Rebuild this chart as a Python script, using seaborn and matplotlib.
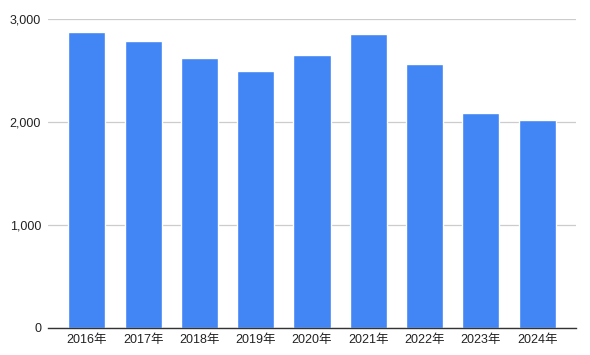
import matplotlib
matplotlib.use("Agg")
import matplotlib.pyplot as plt
import seaborn as sns
import pandas as pd
from matplotlib.ticker import FuncFormatter

years = ["2016年", "2017年", "2018年", "2019年", "2020年", "2021年", "2022年", "2023年", "2024年"]
values = [2871, 2784, 2620, 2497, 2651, 2855, 2564, 2087, 2022]
yticks = [0, 1000, 2000, 3000]

sns.set_theme(style="white")
plt.rcParams['font.family'] = ['Liberation Sans', 'Noto Sans CJK JP', 'DejaVu Sans']

df = pd.DataFrame({"year": years, "value": values})

fig = plt.figure(figsize=(5.9, 3.55), dpi=100)
ax = fig.add_axes([48/590, 27/355, (576-48)/590, (336-27)/355])
sns.barplot(data=df, x="year", y="value", color="#4285F4", saturation=1, width=0.66, ax=ax, zorder=3)

ax.set_xlim(-0.69, 8.69)
ax.set_ylim(0, 3000)
ax.set_yticks(yticks)
ax.yaxis.set_major_formatter(FuncFormatter(lambda v, p: f"{int(v):,}"))
ax.grid(axis="y", color="#cccccc", linewidth=0.9, zorder=0)
ax.set_xlabel("")
ax.set_ylabel("")
for s in ["top", "right", "left"]:
    ax.spines[s].set_visible(False)
ax.spines["bottom"].set_color("#333333")
ax.spines["bottom"].set_linewidth(1.0)
ax.spines["bottom"].set_zorder(4)
ax.tick_params(axis="both", length=0, labelsize=9, colors="#222222")
ax.tick_params(axis="y", pad=5)
ax.tick_params(axis="x", pad=4)

fig.savefig("out.png", dpi=100)
